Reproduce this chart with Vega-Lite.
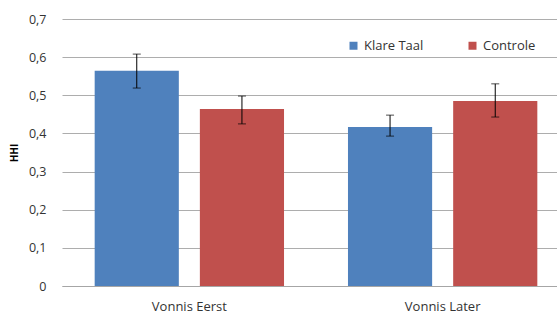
{
  "$schema": "https://vega.github.io/schema/vega-lite/v6.json",
  "autosize": "none",
  "width": 508,
  "height": 267,
  "padding": {"left": 62, "top": 19, "right": 0, "bottom": 27},
  "background": "white",
  "config": {"view": {"stroke": null}, "font": "Open Sans",
    "axisY": {"ticks": false, "domain": false, "grid": true, "gridColor": "#ADADAD", "gridWidth": 1, "labelColor": "#333333", "labelFontSize": 12.5, "labelPadding": 16, "labelOverlap": false, "titleFontWeight": "bold", "titleFontSize": 10, "titleColor": "#000000", "titlePadding": 9}},
  "data": {"values": [
    {"groep": "Vonnis Eerst", "conditie": "Klare Taal", "hhi": 0.564, "lo": 0.519, "hi": 0.608},
    {"groep": "Vonnis Eerst", "conditie": "Controle", "hhi": 0.464, "lo": 0.425, "hi": 0.498},
    {"groep": "Vonnis Later", "conditie": "Klare Taal", "hhi": 0.417, "lo": 0.393, "hi": 0.448},
    {"groep": "Vonnis Later", "conditie": "Controle", "hhi": 0.485, "lo": 0.443, "hi": 0.530}
  ]},
  "encoding": {
    "x": {"field": "groep", "type": "nominal", "sort": ["Vonnis Eerst", "Vonnis Later"],
      "scale": {"paddingInner": 0.2525, "paddingOuter": 0.129},
      "axis": {"title": null, "labelAngle": 0, "ticks": false, "domainColor": "#A6A6A6", "labelColor": "#333333", "labelFontSize": 13, "labelPadding": 14, "grid": false}},
    "xOffset": {"field": "conditie", "type": "nominal", "sort": ["Klare Taal", "Controle"],
      "scale": {"paddingInner": 0.2, "paddingOuter": 0}}
  },
  "layer": [
    {
      "mark": {"type": "bar"},
      "encoding": {
        "y": {"field": "hhi", "type": "quantitative",
          "scale": {"domain": [0, 0.7], "nice": false},
          "axis": {"title": "HHI", "values": [0, 0.1, 0.2, 0.3, 0.4, 0.5, 0.6, 0.7],
            "labelExpr": "datum.value == 0 ? '0' : replace(format(datum.value, '.1f'), '.', ',')"}},
        "color": {"field": "conditie", "type": "nominal", "sort": ["Klare Taal", "Controle"],
          "scale": {"domain": ["Klare Taal", "Controle"], "range": ["#4F81BD", "#C0504D"]},
          "legend": {"title": null, "orient": "none", "legendX": 285, "legendY": 20, "direction": "horizontal",
            "symbolType": "square", "symbolSize": 64, "symbolStrokeWidth": 0, "labelFontSize": 13, "labelColor": "#333333", "columnPadding": 42, "labelOffset": 4}}
      }
    },
    {
      "mark": {"type": "rule", "color": "#000000", "strokeWidth": 1},
      "encoding": {
        "y": {"field": "lo", "type": "quantitative",
          "axis": {"title": "HHI", "values": [0, 0.1, 0.2, 0.3, 0.4, 0.5, 0.6, 0.7],
            "labelExpr": "datum.value == 0 ? '0' : replace(format(datum.value, '.1f'), '.', ',')"}},
        "y2": {"field": "hi"}
      }
    },
    {
      "mark": {"type": "tick", "color": "#000000", "thickness": 1, "size": 8},
      "encoding": {"y": {"field": "lo", "type": "quantitative",
          "axis": {"title": "HHI", "values": [0, 0.1, 0.2, 0.3, 0.4, 0.5, 0.6, 0.7],
            "labelExpr": "datum.value == 0 ? '0' : replace(format(datum.value, '.1f'), '.', ',')"}}}
    },
    {
      "mark": {"type": "tick", "color": "#000000", "thickness": 1, "size": 8},
      "encoding": {"y": {"field": "hi", "type": "quantitative",
          "axis": {"title": "HHI", "values": [0, 0.1, 0.2, 0.3, 0.4, 0.5, 0.6, 0.7],
            "labelExpr": "datum.value == 0 ? '0' : replace(format(datum.value, '.1f'), '.', ',')"}}}
    }
  ]
}
